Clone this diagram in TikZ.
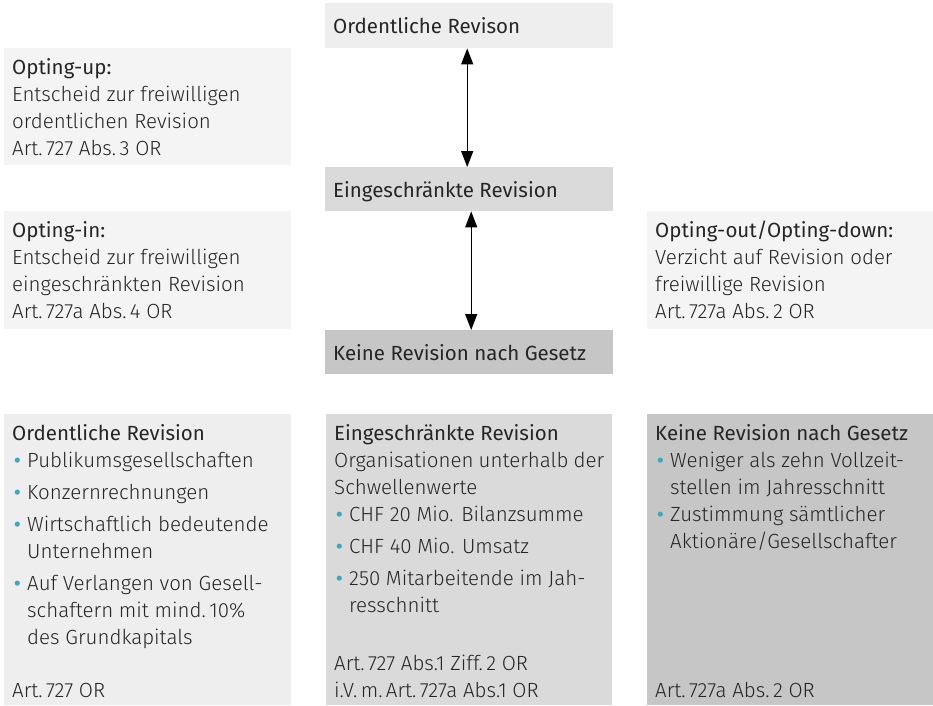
\documentclass[tikz,border=0pt]{standalone}
\usepackage{fontspec}
\setmainfont{Fira Sans Light}[BoldFont={Fira Sans}]
\usetikzlibrary{arrows.meta,positioning}

\definecolor{paleg}{HTML}{F4F4F4}
\definecolor{lightg}{HTML}{EEEEEE}
\definecolor{midg}{HTML}{DADADA}
\definecolor{darkg}{HTML}{C6C6C6}
\definecolor{bul}{HTML}{3AA8BE}
\definecolor{txt}{HTML}{262626}

% box body: [top pad]{height}{text width}{content}
\newcommand{\panel}[4][7pt]{%
  \parbox[t][#2][t]{#3}{\raggedright\fontsize{20.5pt}{27pt}\selectfont
    \vspace*{#1}\noindent\strut #4\strut}}
% bullet item
\newcommand{\itm}[1][5pt]{\par\vspace{#1}\hangindent=15pt\hangafter=1\noindent
  \makebox[15pt][l]{\hspace{2.5pt}\tikz[baseline={(0,-7pt)}]\fill[bul] (0,0) circle (2.6pt);}%
  \strut\ignorespaces}

\begin{document}
\begin{tikzpicture}[
  x=1pt, y=-1pt,
  >=Stealth,
  box/.style={anchor=north west, inner xsep=8pt, inner ysep=0pt, text=txt},
  arr/.style={{Triangle[width=12pt,length=16pt]}-{Triangle[width=12pt,length=16pt]},
    line width=1.3pt, black}
]
  \useasboundingbox (0,0) rectangle (933,705);

  % levels in the middle
  \node[box, fill=lightg] (ordrev) at (325,3)
    {\panel[11pt]{45pt}{272pt}{\textbf{Ordentliche Revison}}};
  \node[box, fill=midg] (eingrev) at (325,167)
    {\panel[11pt]{44pt}{272pt}{\textbf{Eingeschränkte Revision}}};
  \node[box, fill=darkg] (keinrev) at (325,330)
    {\panel[11pt]{44pt}{272pt}{\textbf{Keine Revision nach Gesetz}}};

  \draw[arr] ([xshift=-2pt]ordrev.south) -- ([xshift=-2pt]eingrev.north);
  \draw[arr] ([xshift=2pt]eingrev.south) -- ([xshift=2pt]keinrev.north);

  % opting
  \node[box, fill=paleg] (optup) at (4,48)
    {\panel{117pt}{271pt}{\textbf{Opting-up:}\\
      Entscheid zur freiwilligen\\
      ordentlichen Revision\\
      Art.\,727 Abs.\,3 OR}};
  \node[box, fill=paleg] (optin) at (4,211)
    {\panel{118pt}{271pt}{\textbf{Opting-in:}\\
      Entscheid zur freiwilligen\\
      eingeschränkten Revision\\
      Art.\,727a Abs.\,4 OR}};
  \node[box, fill=paleg] (optout) at (647,211)
    {\panel{118pt}{270pt}{\textbf{Opting-out/Opting-down:}\\
      Verzicht auf Revision oder\\
      freiwillige Revision\\
      Art.\,727a Abs.\,2 OR}};

  % criteria
  \node[box, fill=lightg] (critord) at (4,414)
    {\panel{291pt}{271pt}{\textbf{Ordentliche Revision}
      \itm[0pt] Publikumsgesellschaften
      \itm Konzernrechnungen
      \itm Wirtschaftlich bedeutende\newline Unternehmen
      \itm Auf Verlangen von Gesell-\newline schaftern mit mind.\,10\%\newline des Grundkapitals
      \par\vfill\noindent Art.\,727 OR}};
  \node[box, fill=midg] (criteing) at (326,414)
    {\panel{291pt}{270pt}{\textbf{Eingeschränkte Revision}\\
      Organisationen unterhalb der\\
      Schwellenwerte
      \itm[0pt] CHF 20 Mio. Bilanzsumme
      \itm CHF 40 Mio. Umsatz
      \itm 250 Mitarbeitende im Jah-\newline resschnitt
      \par\vfill\noindent Art.\,727 Abs.1 Ziff.\,2 OR\\
      i.V.\,m.\,Art.\,727a Abs.1 OR}};
  \node[box, fill=darkg] (critkein) at (647,414)
    {\panel{291pt}{270pt}{\textbf{Keine Revision nach Gesetz}
      \itm[0pt] Weniger als zehn Vollzeit-\newline stellen im Jahresschnitt
      \itm[0pt] Zustimmung sämtlicher\newline Aktionäre/Gesellschafter
      \par\vfill\noindent Art.\,727a Abs.\,2 OR}};
\end{tikzpicture}
\end{document}
